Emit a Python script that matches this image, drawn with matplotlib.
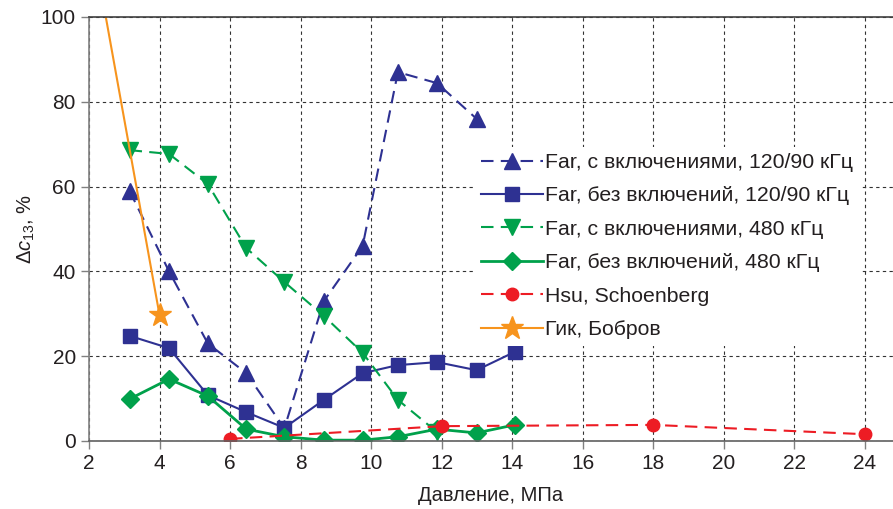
import matplotlib
matplotlib.use("Agg")
import matplotlib.pyplot as plt

plt.rcParams['font.family'] = ['Liberation Sans', 'DejaVu Sans']
plt.rcParams['mathtext.fontset'] = 'custom'
plt.rcParams['mathtext.rm'] = 'Liberation Sans'
plt.rcParams['mathtext.it'] = 'Liberation Sans:italic'

# Data
x_far = [3.15, 4.27, 5.37, 6.46, 7.54, 8.66, 9.76, 10.76, 11.87, 12.99, 14.07]

far_incl_120 = [59, 40, 23, 16, 3, 33, 46, 87, 84.4, 76]
far_noincl_120 = [24.8, 21.9, 10.8, 6.8, 3.1, 9.7, 16, 17.9, 18.6, 16.7, 21]
far_incl_480 = [68.6, 67.7, 60.6, 45.5, 37.5, 29.5, 20.8, 9.7, 2.1]
far_noincl_480 = [9.9, 14.6, 10.6, 2.8, 1.0, 0.2, 0.2, 1.0, 2.8, 1.9, 3.8]

x_hsu = [6, 12, 18, 24]
hsu = [0.5, 3.5, 3.8, 1.6]

x_gik = [2.0, 4.0]
gik = [122, 29.7]

labels = ['Far, с включениями, 120/90 кГц',
          'Far, без включений, 120/90 кГц',
          'Far, с включениями, 480 кГц',
          'Far, без включений, 480 кГц',
          'Hsu, Schoenberg',
          'Гик, Бобров']

xticks = [2, 4, 6, 8, 10, 12, 14, 16, 18, 20, 22, 24]
yticks = [0, 20, 40, 60, 80, 100]

blue = '#2E3192'
green = '#00A14B'
red = '#ED1C24'
orange = '#F7941D'
txt = '#231F20'

fig = plt.figure(figsize=(8.93, 5.09), dpi=100)
ax = fig.add_axes([89/893, (509-441)/509, 1 - 89/893, (441-17)/509])

dash = (6, 3.5)
ax.plot(x_far[:len(far_incl_120)], far_incl_120, color=blue, lw=1.5,
        linestyle=(0, dash), marker='^', ms=11, label=labels[0])
ax.plot(x_far[:len(far_noincl_120)], far_noincl_120, color=blue, lw=1.5,
        linestyle='-', marker='s', ms=10, label=labels[1])
ax.plot(x_far[:len(far_incl_480)], far_incl_480, color=green, lw=1.5,
        linestyle=(0, dash), marker='v', ms=11, label=labels[2])
ax.plot(x_far[:len(far_noincl_480)], far_noincl_480, color=green, lw=2,
        linestyle='-', marker='D', ms=9, label=labels[3])
ax.plot(x_hsu, hsu, color=red, lw=1.5, linestyle=(0, dash), marker='o',
        ms=9, label=labels[4])
ax.plot(x_gik, gik, color=orange, lw=1.5, linestyle='-', marker='*',
        ms=17, label=labels[5])

ax.set_xlim(2, 24.8)
ax.set_ylim(0, 100)
ax.set_xticks(xticks)
ax.set_yticks(yticks)
ax.grid(True, color='#333333', linestyle=(0, (3, 3)), linewidth=0.8)
ax.set_axisbelow(True)

ax.spines['right'].set_visible(False)
ax.spines['left'].set_color('#808080')
ax.spines['bottom'].set_color('#606060')
ax.spines['top'].set_color('#404040')
for s in ['left', 'bottom', 'top']:
    ax.spines[s].set_linewidth(1.2)

ax.tick_params(axis='both', labelsize=15, colors=txt, length=6,
               color='#808080', width=1)

ax.set_xlabel('Давление, МПа', fontsize=14.5, color=txt, labelpad=9)
ax.set_ylabel(r'$\Delta c_{13}$, %', fontsize=14.5, color=txt, labelpad=3)

leg = ax.legend(loc='upper left', bbox_to_anchor=(464/893, 1 - 136/509),
                bbox_transform=fig.transFigure,
                fontsize=15.3, frameon=True, handlelength=2.9,
                handletextpad=0.12, labelspacing=0.68, borderpad=0.3,
                labelcolor=txt)
leg.get_frame().set_edgecolor('none')
leg.get_frame().set_facecolor('white')
leg.get_frame().set_alpha(1)

fig.savefig('out.png', dpi=100)
